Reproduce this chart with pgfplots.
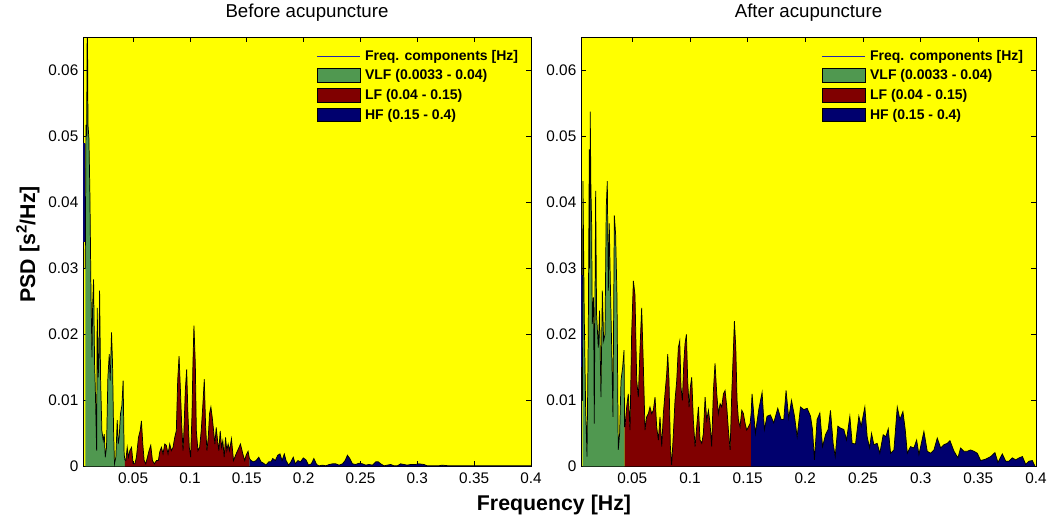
\documentclass[border=0pt]{standalone}
\usepackage{fontspec}
\setmainfont{Liberation Sans}
\usepackage{pgfplots}
\usepackage{pgfplotstable}
\pgfplotsset{compat=1.18}

\definecolor{bgyellow}{RGB}{255,255,0}
\definecolor{vlf}{RGB}{80,152,80}
\definecolor{lf}{RGB}{128,0,0}
\definecolor{hf}{RGB}{0,0,110}
\definecolor{legline}{RGB}{40,40,170}

% PSD before acupuncture
\pgfplotstableread{
f psd
0.0079 0.0300
0.0085 0.0517
0.0091 0.0500
0.0097 0.0700
0.0103 0.0517
0.0111 0.0497
0.0120 0.0410
0.0129 0.0266
0.0138 0.0165
0.0144 0.0245
0.0152 0.0283
0.0161 0.0155
0.0167 0.0120
0.0179 0.0024
0.0184 0.0240
0.0193 0.0135
0.0199 0.0165
0.0205 0.0266
0.0214 0.0130
0.0225 0.0054
0.0237 0.0039
0.0246 0.0049
0.0255 0.0014
0.0266 0.0029
0.0278 0.0135
0.0290 0.0170
0.0298 0.0130
0.0310 0.0203
0.0319 0.0155
0.0328 0.0054
0.0336 0.0004
0.0348 0.0014
0.0360 0.0070
0.0369 0.0034
0.0377 0.0044
0.0389 0.0080
0.0401 0.0092
0.0412 0.0130
0.0421 0.0019
0.0427 0.0010
0.0436 0.0009
0.0448 0.0029
0.0459 0.0014
0.0471 0.0024
0.0486 0.0029
0.0500 0.0004
0.0515 0.0004
0.0529 0.0014
0.0547 0.0044
0.0562 0.0054
0.0573 0.0069
0.0585 0.0034
0.0597 0.0009
0.0611 0.0004
0.0626 0.0014
0.0640 0.0024
0.0655 0.0032
0.0670 0.0009
0.0687 0.0004
0.0705 0.0009
0.0722 0.0009
0.0734 0.0022
0.0749 0.0029
0.0763 0.0019
0.0778 0.0034
0.0792 0.0032
0.0807 0.0019
0.0822 0.0034
0.0836 0.0024
0.0851 0.0029
0.0866 0.0044
0.0880 0.0054
0.0892 0.0130
0.0904 0.0167
0.0915 0.0120
0.0927 0.0064
0.0939 0.0024
0.0947 0.0054
0.0959 0.0115
0.0971 0.0147
0.0982 0.0080
0.0994 0.0029
0.1006 0.0014
0.1018 0.0080
0.1026 0.0155
0.1035 0.0213
0.1047 0.0155
0.1056 0.0054
0.1070 0.0024
0.1085 0.0029
0.1099 0.0054
0.1114 0.0095
0.1126 0.0132
0.1137 0.0064
0.1149 0.0024
0.1161 0.0044
0.1172 0.0080
0.1184 0.0090
0.1196 0.0074
0.1208 0.0054
0.1219 0.0034
0.1231 0.0059
0.1243 0.0039
0.1254 0.0024
0.1266 0.0054
0.1278 0.0029
0.1289 0.0039
0.1301 0.0014
0.1313 0.0044
0.1324 0.0024
0.1336 0.0034
0.1348 0.0024
0.1365 0.0042
0.1383 0.0009
0.1406 0.0019
0.1427 0.0027
0.1444 0.0034
0.1465 0.0019
0.1482 0.0009
0.1494 0.0017
0.1511 0.0023
0.1523 0.0012
0.1538 0.0009
0.1558 0.0007
0.1582 0.0009
0.1605 0.0014
0.1625 0.0007
0.1646 0.0005
0.1669 0.0002
0.1693 0.0007
0.1713 0.0007
0.1728 0.0012
0.1751 0.0009
0.1772 0.0017
0.1792 0.0019
0.1810 0.0009
0.1830 0.0019
0.1845 0.0009
0.1868 0.0002
0.1888 0.0007
0.1909 0.0014
0.1926 0.0004
0.1950 0.0009
0.1973 0.0007
0.1997 0.0013
0.2020 0.0010
0.2043 0.0002
0.2067 0.0004
0.2090 0.0012
0.2114 0.0003
0.2137 0.0001
0.2166 0.0002
0.2195 0.0001
0.2225 0.0003
0.2254 0.0004
0.2283 0.0004
0.2312 0.0002
0.2342 0.0004
0.2365 0.0009
0.2385 0.0017
0.2406 0.0012
0.2429 0.0004
0.2458 0.0003
0.2488 0.0005
0.2517 0.0004
0.2546 0.0002
0.2575 0.0003
0.2605 0.0002
0.2634 0.0007
0.2657 0.0007
0.2678 0.0004
0.2707 0.0001
0.2736 0.0002
0.2765 0.0003
0.2795 0.0001
0.2824 0.0001
0.2853 0.0004
0.2882 0.0003
0.2911 0.0002
0.2941 0.0003
0.2985 0.0003
0.3014 0.0004
0.3058 0.0003
0.3087 0.0001
0.3131 0.0001
0.3189 0.0001
0.3218 0.0002
0.3277 0.0001
0.3335 0.0001
0.3394 0.0001
0.3481 0.0001
0.3569 0.0001
0.3715 0.0001
0.3832 0.0001
0.3949 0.0001
0.4000 0.0001
}\before

% PSD after acupuncture
\pgfplotstableread{
f psd
0.0068 0.0100
0.0072 0.0432
0.0083 0.0230
0.0095 0.0090
0.0107 0.0015
0.0118 0.0200
0.0127 0.0480
0.0131 0.0300
0.0135 0.0537
0.0141 0.0420
0.0147 0.0370
0.0153 0.0216
0.0164 0.0256
0.0170 0.0065
0.0182 0.0417
0.0190 0.0230
0.0205 0.0180
0.0216 0.0236
0.0228 0.0105
0.0240 0.0266
0.0251 0.0190
0.0263 0.0200
0.0274 0.0392
0.0283 0.0432
0.0292 0.0266
0.0300 0.0368
0.0309 0.0281
0.0321 0.0180
0.0332 0.0075
0.0344 0.0380
0.0355 0.0352
0.0367 0.0256
0.0378 0.0025
0.0390 0.0050
0.0402 0.0130
0.0416 0.0150
0.0428 0.0176
0.0433 0.0060
0.0436 0.0060
0.0451 0.0090
0.0465 0.0110
0.0480 0.0055
0.0494 0.0200
0.0509 0.0281
0.0523 0.0260
0.0538 0.0130
0.0552 0.0105
0.0567 0.0180
0.0581 0.0240
0.0595 0.0156
0.0610 0.0055
0.0624 0.0075
0.0639 0.0080
0.0653 0.0090
0.0668 0.0080
0.0682 0.0085
0.0697 0.0105
0.0711 0.0060
0.0726 0.0040
0.0740 0.0075
0.0755 0.0030
0.0769 0.0080
0.0783 0.0110
0.0798 0.0140
0.0807 0.0170
0.0818 0.0130
0.0830 0.0030
0.0841 0.0002
0.0856 0.0050
0.0870 0.0100
0.0885 0.0130
0.0899 0.0180
0.0911 0.0190
0.0922 0.0120
0.0934 0.0100
0.0946 0.0156
0.0957 0.0186
0.0969 0.0200
0.0980 0.0130
0.0992 0.0090
0.1003 0.0120
0.1015 0.0135
0.1029 0.0070
0.1044 0.0030
0.1058 0.0060
0.1073 0.0090
0.1087 0.0040
0.1102 0.0035
0.1116 0.0050
0.1131 0.0105
0.1145 0.0070
0.1160 0.0085
0.1174 0.0065
0.1188 0.0030
0.1203 0.0115
0.1217 0.0156
0.1232 0.0110
0.1246 0.0080
0.1261 0.0095
0.1275 0.0090
0.1290 0.0110
0.1304 0.0115
0.1319 0.0090
0.1333 0.0055
0.1348 0.0025
0.1362 0.0110
0.1377 0.0180
0.1385 0.0220
0.1397 0.0180
0.1408 0.0100
0.1420 0.0070
0.1434 0.0060
0.1449 0.0085
0.1463 0.0080
0.1478 0.0065
0.1492 0.0055
0.1507 0.0060
0.1521 0.0065
0.1530 0.0080
0.1538 0.0110
0.1567 0.0050
0.1596 0.0086
0.1625 0.0112
0.1645 0.0056
0.1668 0.0076
0.1697 0.0078
0.1726 0.0066
0.1761 0.0088
0.1790 0.0071
0.1813 0.0071
0.1833 0.0115
0.1856 0.0073
0.1880 0.0100
0.1906 0.0076
0.1929 0.0045
0.1958 0.0090
0.1987 0.0086
0.2016 0.0088
0.2045 0.0076
0.2062 0.0056
0.2079 0.0010
0.2102 0.0071
0.2126 0.0081
0.2149 0.0030
0.2175 0.0048
0.2198 0.0056
0.2218 0.0085
0.2241 0.0035
0.2259 0.0015
0.2282 0.0061
0.2305 0.0058
0.2334 0.0056
0.2357 0.0040
0.2386 0.0076
0.2406 0.0035
0.2435 0.0034
0.2464 0.0076
0.2484 0.0061
0.2516 0.0090
0.2536 0.0045
0.2557 0.0028
0.2574 0.0050
0.2594 0.0033
0.2623 0.0035
0.2646 0.0020
0.2675 0.0048
0.2698 0.0045
0.2719 0.0057
0.2739 0.0020
0.2768 0.0025
0.2797 0.0090
0.2820 0.0071
0.2846 0.0083
0.2866 0.0056
0.2884 0.0020
0.2912 0.0030
0.2941 0.0028
0.2965 0.0040
0.2985 0.0018
0.3028 0.0053
0.3057 0.0023
0.3086 0.0020
0.3115 0.0025
0.3144 0.0043
0.3173 0.0028
0.3202 0.0033
0.3231 0.0035
0.3254 0.0039
0.3289 0.0023
0.3323 0.0013
0.3346 0.0028
0.3375 0.0023
0.3404 0.0023
0.3433 0.0025
0.3462 0.0023
0.3491 0.0020
0.3520 0.0009
0.3563 0.0011
0.3607 0.0015
0.3644 0.0021
0.3670 0.0006
0.3708 0.0019
0.3737 0.0008
0.3766 0.0008
0.3795 0.0013
0.3824 0.0010
0.3853 0.0013
0.3882 0.0015
0.3911 0.0003
0.3939 0.0008
0.3968 0.0009
0.3989 0.0001
}\after

\pgfplotsset{
  psdaxis/.style={
    scale only axis,
    anchor=south west,
    xmax=0.4, ymin=0, ymax=0.065,
    scaled ticks=false,
    axis background/.style={fill=bgyellow},
    xtick={0.05,0.1,0.15,0.2,0.25,0.3,0.35,0.4},
    xticklabels={0.05,0.1,0.15,0.2,0.25,0.3,0.35,0.4},
    ytick={0,0.01,0.02,0.03,0.04,0.05,0.06},
    yticklabels={0,0.01,0.02,0.03,0.04,0.05,0.06},
    tick label style={font=\fontsize{11.5}{13}\selectfont},
    xticklabel style={yshift=-1.5pt},
    tick align=inside,
    major tick length=3.75pt,
    tick style={black, line width=0.5pt},
    axis line style={black, line width=0.6pt},
    title style={at={(0.5,1)}, anchor=base, yshift=9pt, font=\fontsize{14}{16}\selectfont},
    legend style={draw=none, fill=none, at={(1,1)}, anchor=north east,
      xshift=-9pt, yshift=-9pt, inner sep=0pt,
      font=\fontsize{10.5}{12}\selectfont\bfseries,
      row sep=4.3pt, nodes={inner sep=0.5pt},
      /tikz/every odd column/.append style={column sep=3pt}},
    legend cell align=left,
  },
  bandfill/.style={draw=none, forget plot},
  psdline/.style={black, line width=0.55pt, forget plot},
}

\newcommand{\psdlegend}{%
  \addlegendimage{legend image code/.code={\draw[legline, line width=0.6pt] (0pt,0pt) -- (32pt,0pt);}}
  \addlegendentry{Freq. components [Hz]}
  \addlegendimage{legend image code/.code={\draw[fill=vlf, draw=black, line width=0.5pt] (0pt,-5pt) rectangle (32pt,5pt);}}
  \addlegendentry{VLF (0.0033 - 0.04)}
  \addlegendimage{legend image code/.code={\draw[fill=lf, draw=black, line width=0.5pt] (0pt,-5pt) rectangle (32pt,5pt);}}
  \addlegendentry{LF (0.04 - 0.15)}
  \addlegendimage{legend image code/.code={\draw[fill=hf, draw=black, line width=0.5pt] (0pt,-5pt) rectangle (32pt,5pt);}}
  \addlegendentry{HF (0.15 - 0.4)}
}

\begin{document}
\begin{tikzpicture}
\path[use as bounding box] (0pt,0pt) rectangle (789.75pt,389.25pt);

\begin{axis}[psdaxis, at={(62.25pt,39.4pt)}, width=336pt, height=322.1pt,
  xmin=0.0059, title={Before acupuncture}]
\addplot[bandfill, fill=hf] coordinates {(0.0059,0.034) (0.0059,0.049) (0.0079,0.049) (0.0079,0.034)} -- cycle;
\addplot[bandfill, fill=vlf, restrict x to domain=0:0.04271] table[x=f, y=psd] {\before} \closedcycle;
\addplot[bandfill, fill=lf, restrict x to domain=0.04269:0.15231] table[x=f, y=psd] {\before} \closedcycle;
\addplot[bandfill, fill=hf, restrict x to domain=0.15229:1] table[x=f, y=psd] {\before} \closedcycle;
\addplot[psdline] table[x=f, y=psd] {\before};
\psdlegend
\end{axis}

\begin{axis}[psdaxis, at={(435.75pt,39.4pt)}, width=341.25pt, height=322.1pt,
  xmin=0.0055, title={After acupuncture}]
\addplot[bandfill, fill=hf] coordinates {(0.0055,0.015) (0.0055,0.029) (0.0068,0.029) (0.0068,0.015)} -- cycle;
\addplot[bandfill, fill=vlf, restrict x to domain=0:0.04331] table[x=f, y=psd] {\after} \closedcycle;
\addplot[bandfill, fill=lf, restrict x to domain=0.04329:0.15301] table[x=f, y=psd] {\after} \closedcycle;
\addplot[bandfill, fill=hf, restrict x to domain=0.15299:1] table[x=f, y=psd] {\after} \closedcycle;
\addplot[psdline] table[x=f, y=psd] {\after};
\psdlegend
\end{axis}

\node[rotate=90, anchor=base, font=\fontsize{16}{18}\selectfont\bfseries] at (26.25pt,206pt) {PSD [s\textsuperscript{2}/Hz]};
\node[anchor=base, font=\fontsize{16}{18}\selectfont\bfseries] at (415.5pt,6.75pt) {Frequency [Hz]};
\end{tikzpicture}
\end{document}
